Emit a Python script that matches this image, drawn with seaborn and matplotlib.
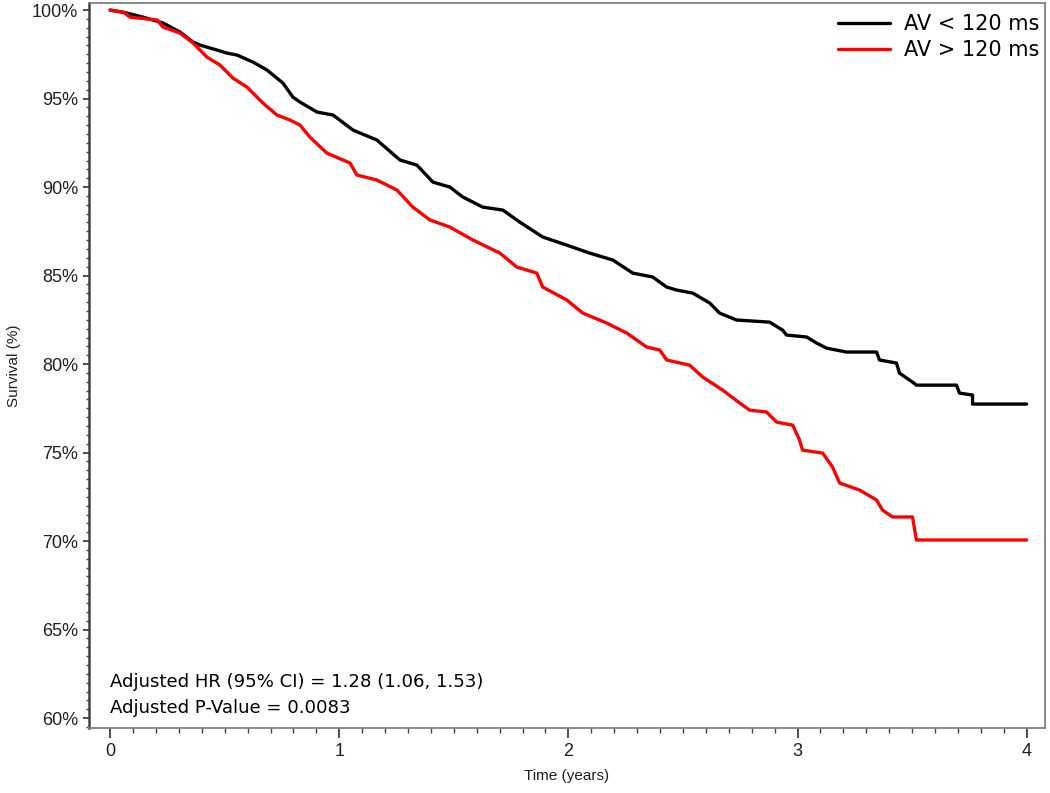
import matplotlib
matplotlib.use("Agg")
import matplotlib.pyplot as plt
from matplotlib.ticker import MultipleLocator, FuncFormatter
import seaborn as sns
import pandas as pd

# Kaplan-Meier curves (time in years, survival in %)
t_short = [0, 0.074, 0.144, 0.231, 0.305, 0.362, 0.393, 0.467, 0.510, 0.554,
           0.624, 0.685, 0.754, 0.798, 0.829, 0.903, 0.973, 1.060, 1.164, 1.265,
           1.339, 1.409, 1.483, 1.539, 1.626, 1.714, 1.788, 1.888, 1.993, 2.093,
           2.194, 2.281, 2.368, 2.429, 2.473, 2.543, 2.617, 2.660, 2.734, 2.878,
           2.935, 2.952, 3.040, 3.083, 3.127, 3.214, 3.345, 3.358, 3.432, 3.445,
           3.502, 3.519, 3.694, 3.707, 3.764, 3.764, 4.0]
s_short = [100.0, 99.83, 99.60, 99.27, 98.76, 98.19, 98.02, 97.74, 97.57, 97.46,
           97.06, 96.61, 95.88, 95.08, 94.80, 94.24, 94.07, 93.22, 92.66, 91.53,
           91.24, 90.28, 90.00, 89.44, 88.87, 88.70, 88.02, 87.18, 86.72, 86.27,
           85.88, 85.14, 84.92, 84.35, 84.18, 84.01, 83.45, 82.88, 82.49, 82.37,
           81.92, 81.64, 81.53, 81.19, 80.90, 80.68, 80.68, 80.23, 80.06, 79.49,
           78.98, 78.81, 78.81, 78.36, 78.25, 77.74, 77.74]

t_long = [0, 0.057, 0.087, 0.205, 0.231, 0.305, 0.362, 0.423, 0.480, 0.536,
          0.597, 0.667, 0.728, 0.785, 0.829, 0.872, 0.946, 1.047, 1.077, 1.164,
          1.252, 1.321, 1.396, 1.483, 1.583, 1.701, 1.775, 1.862, 1.888, 1.993,
          2.063, 2.167, 2.255, 2.342, 2.399, 2.429, 2.529, 2.586, 2.673, 2.748,
          2.791, 2.865, 2.909, 2.979, 3.009, 3.022, 3.110, 3.153, 3.184, 3.271,
          3.345, 3.371, 3.415, 3.502, 3.519, 4.0]
s_long = [100.0, 99.89, 99.60, 99.44, 99.04, 98.70, 98.14, 97.34, 96.89, 96.16,
          95.65, 94.75, 94.07, 93.79, 93.50, 92.82, 91.92, 91.36, 90.68, 90.40,
          89.83, 88.87, 88.14, 87.74, 87.01, 86.27, 85.48, 85.14, 84.35, 83.62,
          82.88, 82.32, 81.75, 80.96, 80.79, 80.23, 79.94, 79.27, 78.53, 77.80,
          77.40, 77.29, 76.72, 76.55, 75.71, 75.14, 74.97, 74.18, 73.28, 72.88,
          72.32, 71.75, 71.36, 71.36, 70.06, 70.06]

groups = ["AV < 120 ms", "AV > 120 ms"]
colors = {"AV < 120 ms": "black", "AV > 120 ms": "#FF0000"}

df = pd.concat([
    pd.DataFrame({"time": t_short, "surv": s_short, "group": groups[0]}),
    pd.DataFrame({"time": t_long, "surv": s_long, "group": groups[1]}),
], ignore_index=True)

sns.set_theme(style="ticks")
plt.rcParams["font.family"] = ["Liberation Sans", "DejaVu Sans"]

fig = plt.figure(figsize=(10.5, 7.93), dpi=100)
ax = fig.add_axes([0.0848, 0.082, 0.9104, 0.9142])

sns.lineplot(data=df, x="time", y="surv", hue="group", hue_order=groups,
             palette=colors, estimator=None, sort=False,
             linewidth=2.4, ax=ax)

ax.set_xlim(-0.092, 4.08)
ax.set_ylim(59.44, 100.4)
ax.xaxis.set_major_locator(MultipleLocator(1))
ax.xaxis.set_minor_locator(MultipleLocator(0.1))
ax.yaxis.set_major_locator(MultipleLocator(5))
ax.yaxis.set_minor_locator(MultipleLocator(0.5))
ax.yaxis.set_major_formatter(FuncFormatter(lambda v, p: f"{v:.0f}%"))

ax.tick_params(axis="both", which="major", labelsize=13, color="#404040",
               width=1.3, pad=4, labelcolor="#202020")
ax.tick_params(axis="x", which="major", length=7)
ax.tick_params(axis="x", which="minor", length=3.6, width=1.0, color="#404040")
ax.tick_params(axis="y", which="major", length=4)
ax.tick_params(axis="y", which="minor", length=2.4, width=1.0, color="#404040")

for side in ["top", "right", "bottom"]:
    ax.spines[side].set_color("#808080")
    ax.spines[side].set_linewidth(1.3)
ax.spines["left"].set_color("#404040")
ax.spines["left"].set_linewidth(1.8)

ax.set_xlabel("Time (years)", fontsize=11, labelpad=6, color="#202020")
ax.set_ylabel("Survival (%)", fontsize=11, labelpad=8, color="#202020")

leg = ax.legend(title=None, loc="upper right", bbox_to_anchor=(1.0, 0.992),
                frameon=False, handlelength=2.5, handletextpad=0.7,
                borderaxespad=0.05, borderpad=0.2, labelspacing=0.3,
                prop={"family": "DejaVu Sans", "size": 15})
for txt in leg.get_texts():
    txt.set_color("black")

ax.text(0.0, 61.75, "Adjusted HR (95% CI) = 1.28 (1.06, 1.53)", color="black",
        fontsize=13.1, family="DejaVu Sans", ha="left", va="baseline")
ax.text(0.0, 60.28, "Adjusted P-Value = 0.0083", color="black",
        fontsize=13.1, family="DejaVu Sans", ha="left", va="baseline")

fig.savefig("out.png", dpi=100)
